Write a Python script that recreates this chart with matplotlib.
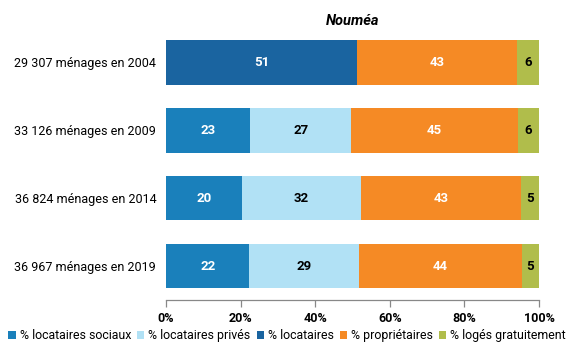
import numpy as np
import matplotlib.pyplot as plt

plt.rcParams['font.family'] = ['Roboto', 'DejaVu Sans']

categories = ['29 307 ménages en 2004', '33 126 ménages en 2009',
              '36 824 ménages en 2014', '36 967 ménages en 2019']
sociaux = [0, 22.6, 20.4, 22.4]
prives = [0, 27.0, 31.9, 29.4]
locataires = [51.2, 0, 0, 0]
proprietaires = [42.8, 44.7, 42.9, 43.6]
gratuit = [6.0, 5.7, 4.8, 4.6]

series = [
    ('% locataires sociaux', sociaux, '#1a80bb', 'white'),
    ('% locataires privés', prives, '#b1e1f5', 'black'),
    ('% locataires', locataires, '#1a64a0', 'white'),
    ('% propriétaires', proprietaires, '#f58a25', 'white'),
    ('% logés gratuitement', gratuit, '#b0bd4b', 'black'),
]

fig = plt.figure(figsize=(5.74, 3.43), dpi=100)
ax = fig.add_axes([0.289, 0.1254, 0.65, 0.7926])

y = np.arange(len(categories))
left = np.zeros(len(categories))
for name, vals, color, tcolor in series:
    vals = np.array(vals)
    ax.barh(y, vals, left=left, height=0.66, color=color, label=name,
            edgecolor='none')
    for i, v in enumerate(vals):
        if v > 0:
            ax.text(left[i] + v / 2, y[i], f'{round(v):d}', ha='center',
                    va='center', color=tcolor, fontsize=9.5, fontweight='bold')
    left += vals

ax.set_xlim(0, 100)
ax.set_ylim(3.5, -0.5)
ax.set_yticks(y)
ax.set_yticklabels(categories, fontsize=9)
ax.tick_params(axis='y', length=0, pad=7)
ax.set_xticks(np.arange(0, 101, 20))
ax.set_xticklabels([f'{t}%' for t in range(0, 101, 20)], fontsize=9,
                   fontweight='bold')
ax.tick_params(axis='x', length=5, color='#888888', width=0.9, pad=4)
for s in ['top', 'right', 'left']:
    ax.spines[s].set_visible(False)
ax.spines['bottom'].set_color('#888888')
ax.spines['bottom'].set_linewidth(0.9)

ax.set_title('Nouméa', fontsize=10.5, fontweight='bold', style='italic', pad=2)

fig.legend(loc='lower center', bbox_to_anchor=(0.5, -0.012), ncol=5,
           frameon=False, fontsize=8.9, handlelength=0.6, handleheight=0.6,
           handletextpad=0.3, columnspacing=0.5, borderaxespad=0)

fig.savefig('out.png', dpi=100)
